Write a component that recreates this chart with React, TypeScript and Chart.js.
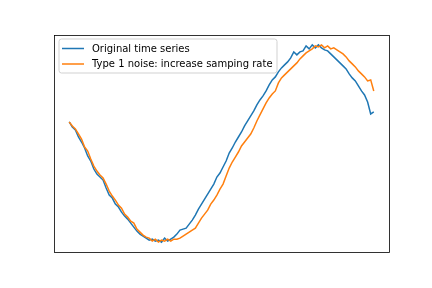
import React, { useEffect, useRef } from "react";
import { Chart, registerables } from "chart.js";

Chart.register(...registerables);

const seriesNames = ["Original time series", "Type 1 noise: increase samping rate"];

const originalSeries = [
  0.21, 0.16, 0.13, 0.06, 0.01, -0.05, -0.13, -0.18, -0.26, -0.31,
  -0.34, -0.37, -0.45, -0.52, -0.55, -0.61, -0.64, -0.69, -0.73, -0.76,
  -0.80, -0.84, -0.88, -0.91, -0.93, -0.95, -0.97, -0.96, -0.98, -0.97,
  -0.99, -0.95, -0.98, -0.96, -0.94, -0.91, -0.87, -0.86, -0.85, -0.81,
  -0.77, -0.72, -0.66, -0.61, -0.56, -0.51, -0.46, -0.41, -0.34, -0.30,
  -0.24, -0.18, -0.10, -0.05, 0.01, 0.06, 0.11, 0.17, 0.22, 0.27,
  0.32, 0.38, 0.43, 0.47, 0.52, 0.58, 0.63, 0.66, 0.71, 0.75,
  0.78, 0.81, 0.85, 0.91, 0.88, 0.91, 0.92, 0.97, 0.94, 0.98,
  0.95, 0.98, 0.95, 0.93, 0.92, 0.89, 0.86, 0.83, 0.80, 0.77,
  0.74, 0.69, 0.65, 0.62, 0.57, 0.52, 0.48, 0.41, 0.29, 0.31,
];

const noisySeries = [
  0.21, 0.17, 0.14, 0.09, 0.04, -0.04, -0.08, -0.16, -0.23, -0.28,
  -0.32, -0.35, -0.41, -0.48, -0.53, -0.57, -0.62, -0.65, -0.71, -0.74,
  -0.78, -0.80, -0.86, -0.89, -0.92, -0.94, -0.95, -0.98, -0.96, -0.99,
  -0.97, -0.98, -0.96, -0.98, -0.96, -0.96, -0.95, -0.93, -0.91, -0.89,
  -0.87, -0.85, -0.80, -0.75, -0.71, -0.67, -0.61, -0.57, -0.52, -0.46,
  -0.41, -0.33, -0.25, -0.19, -0.14, -0.09, -0.03, 0.01, 0.05, 0.09,
  0.15, 0.22, 0.28, 0.34, 0.40, 0.45, 0.49, 0.52, 0.60, 0.65,
  0.68, 0.71, 0.74, 0.77, 0.80, 0.84, 0.87, 0.90, 0.92, 0.94,
  0.97, 0.96, 0.98, 0.95, 0.97, 0.94, 0.95, 0.93, 0.91, 0.89,
  0.86, 0.82, 0.79, 0.76, 0.72, 0.69, 0.66, 0.62, 0.63, 0.52,
];

const colors = ["#1f77b4", "#ff7f0e"];

const framePlugin = {
  id: "mplFrame",
  afterDraw(chart: any) {
    const { ctx, chartArea } = chart;
    const { left, top, right, bottom } = chartArea;
    ctx.save();
    // frame
    ctx.strokeStyle = "#000000";
    ctx.lineWidth = 0.8;
    ctx.strokeRect(Math.round(left) + 0.5, Math.round(top) + 0.5, Math.round(right - left), Math.round(bottom - top));

    // legend
    const lx = left + 5;
    const ly = top + 4;
    const lw = 218;
    const lh = 34;
    const r = 2.5;
    ctx.beginPath();
    ctx.moveTo(lx + r, ly);
    ctx.lineTo(lx + lw - r, ly);
    ctx.arcTo(lx + lw, ly, lx + lw, ly + r, r);
    ctx.lineTo(lx + lw, ly + lh - r);
    ctx.arcTo(lx + lw, ly + lh, lx + lw - r, ly + lh, r);
    ctx.lineTo(lx + r, ly + lh);
    ctx.arcTo(lx, ly + lh, lx, ly + lh - r, r);
    ctx.lineTo(lx, ly + r);
    ctx.arcTo(lx, ly, lx + r, ly, r);
    ctx.closePath();
    ctx.fillStyle = "rgba(255,255,255,0.8)";
    ctx.fill();
    ctx.strokeStyle = "rgba(204,204,204,0.9)";
    ctx.lineWidth = 1;
    ctx.stroke();

    ctx.font = "10px 'DejaVu Sans'";
    ctx.textBaseline = "middle";
    ctx.textAlign = "left";
    seriesNames.forEach((name, i) => {
      const y = ly + 9.5 + i * 15.5;
      ctx.strokeStyle = colors[i];
      ctx.lineWidth = 1.5;
      ctx.beginPath();
      ctx.moveTo(lx + 3, y);
      ctx.lineTo(lx + 25, y);
      ctx.stroke();
      ctx.fillStyle = "#000000";
      ctx.fillText(name, lx + 33, y + 0.5);
    });
    ctx.restore();
  },
};

export default function App() {
  const canvasRef = useRef<HTMLCanvasElement | null>(null);

  useEffect(() => {
    const canvas = canvasRef.current;
    if (!canvas) return;
    const allVals = [...originalSeries, ...noisySeries];
    const yMin = Math.min(...allVals);
    const yMax = Math.max(...allVals);
    const yPad = (yMax - yMin) * 0.05;
    const n = Math.max(originalSeries.length, noisySeries.length) - 1;
    const xPad = n * 0.05;

    const toPoints = (arr: number[]) => arr.map((v, i) => ({ x: i, y: v }));

    const chart = new Chart(canvas, {
      type: "line",
      data: {
        datasets: [
          {
            label: seriesNames[0],
            data: toPoints(originalSeries),
            borderColor: colors[0],
            backgroundColor: colors[0],
            borderWidth: 1.5,
            pointRadius: 0,
            tension: 0,
            order: 1,
          },
          {
            label: seriesNames[1],
            data: toPoints(noisySeries),
            borderColor: colors[1],
            backgroundColor: colors[1],
            borderWidth: 1.5,
            pointRadius: 0,
            tension: 0,
            order: 0,
          },
        ],
      },
      options: {
        responsive: false,
        animation: false,
        devicePixelRatio: 1,
        layout: { padding: { left: 54, top: 35, right: 43, bottom: 36 } },
        plugins: { legend: { display: false }, tooltip: { enabled: false } },
        scales: {
          x: { type: "linear", display: false, min: -xPad, max: n + xPad },
          y: { type: "linear", display: false, min: yMin - yPad, max: yMax + yPad },
        },
      },
      plugins: [framePlugin],
    });
    return () => chart.destroy();
  }, []);

  return (
    <div style={{ position: "fixed", left: 0, top: 0, width: 432, height: 288, background: "#ffffff" }}>
      <canvas ref={canvasRef} width={432} height={288} style={{ display: "block", width: 432, height: 288 }} />
    </div>
  );
}
